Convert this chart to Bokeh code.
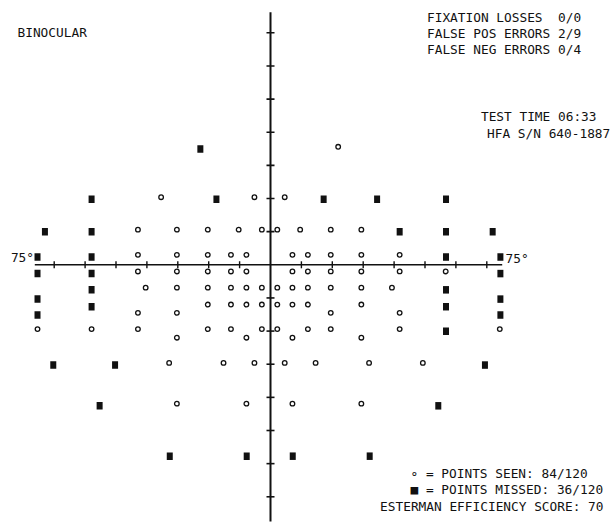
import math
from bokeh.plotting import figure
from bokeh.models import Range1d, Label
from bokeh.transform import dodge
from bokeh.embed import file_html
from bokeh.resources import INLINE

# ---------------- data (degrees of visual field) ----------------
# row elevations (deg)
row_y = [35.6, 20.4, 10.6, 3.0, -2.0, -6.9, -9.7, -12.0, -14.5, -19.4, -22.0, -29.6, -41.9, -57.1]

# points seen (open circles), x positions per row
seen_r01 = [21.9]
seen_r02 = [-35.4, -5.2, 4.6]
seen_r03 = [-42.9, -30.3, -20.3, -10.3, -2.8, 2.2, 9.6, 19.5, 29.4]
seen_r04 = [-42.9, -30.3, -20.3, -12.8, -7.8, 7.1, 12.1, 19.5, 29.4, 41.8]
seen_r05 = [-42.9, -30.3, -20.3, -12.8, -7.8, 7.1, 12.1, 19.5, 29.4, 41.8, 56.7]
seen_r06 = [-40.4, -30.3, -20.3, -12.8, -7.8, -2.8, 2.2, 7.1, 12.1, 19.5, 29.4, 39.3]
seen_r07 = []
seen_r08 = [-20.3, -12.8, -7.8, -2.8, 2.2, 7.1, 12.1, 29.4]
seen_r09 = [-42.9, -30.3, 19.5, 41.8]
seen_r10 = [-75.4, -57.9, -42.9, -20.3, -12.8, -2.8, 2.2, 12.1, 19.5, 41.8, 74.2]
seen_r11 = [-30.3, -7.8, 7.1, 29.4]
seen_r12 = [-32.8, -15.2, -5.2, 4.6, 14.6, 31.9, 49.3]
seen_r13 = [-30.3, -7.8, 7.1, 29.4]
seen_r14 = []

# points missed (filled squares), x positions per row
miss_r01 = [-22.7]
miss_r02 = [-57.9, -17.5, 17.2, 34.5, 56.8]
miss_r03 = [-73.0, -57.9, 41.8, 56.8, 71.9]
miss_r04 = [-75.4, -57.9, 56.8, 74.4]
miss_r05 = [-75.4, -57.9, 74.4]
miss_r06 = [-57.9, 56.8]
miss_r07 = [-75.4, 74.4]
miss_r08 = [-57.9, 56.8]
miss_r09 = [-75.4, 74.4]
miss_r10 = [56.8]
miss_r11 = []
miss_r12 = [-70.3, -50.3, 69.4]
miss_r13 = [-55.3, 54.3]
miss_r14 = [-32.6, -7.7, 7.2, 32.1]

seen_rows = [seen_r01, seen_r02, seen_r03, seen_r04, seen_r05, seen_r06, seen_r07,
             seen_r08, seen_r09, seen_r10, seen_r11, seen_r12, seen_r13, seen_r14]
miss_rows = [miss_r01, miss_r02, miss_r03, miss_r04, miss_r05, miss_r06, miss_r07,
             miss_r08, miss_r09, miss_r10, miss_r11, miss_r12, miss_r13, miss_r14]

# axis ticks (deg)
x_ticks = [-70, -60, -50, -40, -30, -20, -10, 10, 20, 30, 40, 50, 60, 70]
y_ticks = [-70, -60, -50, -40, -30, -20, -10, 10, 20, 30, 40, 50, 60, 70]

header_lines = ["FIXATION LOSSES\u00a0 0/0", "FALSE POS ERRORS 2/9", "FALSE NEG ERRORS 0/4"]
test_time = "TEST TIME 06:33"
serial = "HFA S/N 640-1887"
legend_lines = ["\u2218 = POINTS SEEN: 84/120", "\u25a0 = POINTS MISSED: 36/120"]
score_line = "ESTERMAN EFFICIENCY SCORE: 70"

seen_x = [x for r in seen_rows for x in r]
seen_y = [y for r, y in zip(seen_rows, row_y) for _ in r]
miss_x = [x for r in miss_rows for x in r]
miss_y = [y for r, y in zip(miss_rows, row_y) for _ in r]

# ---------------- layout ----------------
W, H = 613, 523
OFF = 0
X0, SX = 270.0, 3.09     # page px of 0 deg, px per deg (horizontal)
Y0, SY = 264.3, 3.314    # page px of 0 deg, px per deg (vertical)


def px(xp):
    return (xp - X0) / SX


def py(yp):
    return (Y0 - yp) / SY


p = figure(width=W, height=H,
           x_range=Range1d(px(OFF), px(OFF + W)),
           y_range=Range1d(py(OFF + H), py(OFF)),
           x_axis_type=None, y_axis_type=None,
           output_backend="svg", toolbar_location=None,
           min_border=0, outline_line_color=None,
           background_fill_color="white", border_fill_color="white")

INK = "#111111"

# axes
p.segment(x0=[px(34.3)], y0=[0], x1=[px(501.7)], y1=[0], line_color=INK, line_width=1.4)
p.segment(x0=[0], y0=[py(11.7)], x1=[0], y1=[py(521)], line_color=INK, line_width=2)
p.scatter(x=x_ticks, y=[0] * len(x_ticks), marker="dash", size=7, angle=math.pi / 2,
          line_color=INK, line_width=1.4)
p.scatter(x=[0] * len(y_ticks), y=y_ticks, marker="dash", size=8,
          line_color=INK, line_width=1.6)

# points
p.scatter(x=seen_x, y=seen_y, marker="circle", size=4.6, fill_color="white",
          line_color=INK, line_width=1.3)
p.rect(x="x", y=dodge("y", -0.65), width=6, height=7.5, width_units="screen",
       height_units="screen", fill_color=INK, line_color=None,
       source=dict(x=miss_x, y=miss_y))

FONT = "DejaVu Sans Mono"
FS = "12.8px"


def lab(text, xp, yp, align="left"):
    p.add_layout(Label(x=px(xp), y=py(yp), text=text, text_font=FONT,
                       text_font_size=FS, text_color=INK, text_align=align,
                       text_baseline="middle"))


lab("BINOCULAR", 17, 32.3)
for i, t in enumerate(header_lines):
    lab(t, 426.5, 16.7 + 16.3 * i)
lab(test_time, 596, 115.7, "right")
lab(serial, 486.5, 132.7, "left")
lab("75\u00b0", 33.5, 256.7, "right")
lab("75\u00b0", 505, 257.7, "left")
lab(legend_lines[0], 410, 473.3)
lab(legend_lines[1], 410, 489.3)
lab(score_line, 603, 505.7, "right")

open("out.html", "w").write(file_html(p, INLINE))
